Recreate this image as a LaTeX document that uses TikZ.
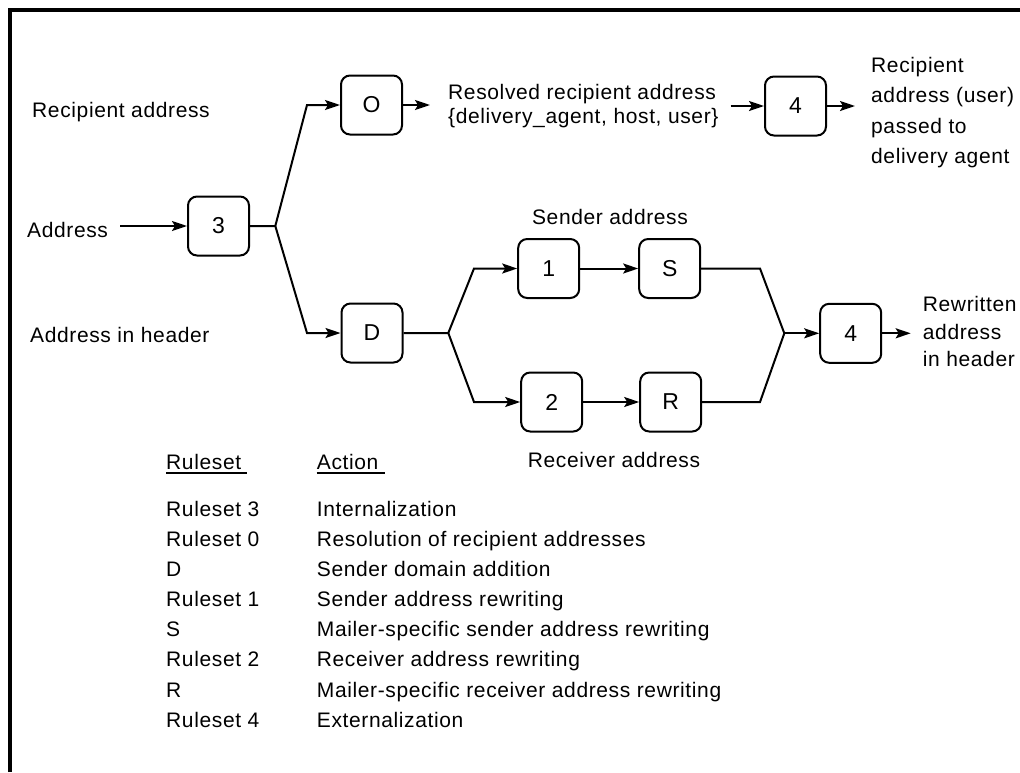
\documentclass[tikz,border=0pt]{standalone}
\usepackage{fontspec}
\setmainfont{Liberation Sans}[LetterSpace=3]
\usetikzlibrary{arrows.meta,calc}

\begin{document}
\begin{tikzpicture}[x=1pt,y=-1pt,
  rulebox/.style={draw, rounded corners=9pt, minimum width=61pt, minimum height=59pt,
    line width=2pt, inner sep=0pt, font=\fontsize{23}{24}\selectfont},
  lbl/.style={inner sep=0pt, font=\fontsize{21}{24}\selectfont},
  flow/.style={line width=2pt},
  arr/.style={flow, -{Stealth[length=15pt,width=10pt,inset=3pt]}},
  hline/.style={line width=1.8pt},
]
\useasboundingbox (0,0) rectangle (1020,772);

% frame: top and left rules only
\draw[line width=4pt] (10,772) -- (10,10) -- (1020,10);

% ruleset boxes
\node[rulebox] (b3)  at (218.5,226)   {3};
\node[rulebox] (bO)  at (371.5,105)   {O};
\node[rulebox] (bD)  at (372,333)     {D};
\node[rulebox] (b4a) at (795.5,106)   {4};
\node[rulebox] (b1)  at (548.7,268.5) {1};
\node[rulebox] (bS)  at (669.7,268.5) {S};
\node[rulebox] (b2)  at (551.7,402)   {2};
\node[rulebox] (bR)  at (670.7,402)   {R};
\node[rulebox] (b4b) at (850.7,333.3) {4};

% flow labels (multi-line labels are placed by the baseline of their last line)
\node[lbl, anchor=base west] (recip) at (32,117.3)  {Recipient address};
\node[lbl, anchor=base west] (addr)  at (27,237.3)  {Address};
\node[lbl, anchor=base west] (hdr)   at (30,342.7)  {Address in header};
\node[lbl, anchor=base west, align=left] (res) at (448,123)
  {Resolved recipient address\\\{delivery\_agent, host, user\}};
\node[lbl, anchor=base west, align=left, font=\fontsize{21}{30.2}\selectfont] (deliv) at (871,163.3)
  {Recipient\\address (user)\\passed to\\delivery agent};
\node[lbl, anchor=base west, align=left, font=\fontsize{21}{27.5}\selectfont] (rewr) at (922.7,366.7)
  {Rewritten\\address\\in header};
\node[lbl, anchor=base] (snd) at (610,224)   {Sender address};
\node[lbl, anchor=base] (rcv) at (614,467.3) {Receiver address};

% branch and merge points
\coordinate (j1) at (275.3,226);
\coordinate (u1) at (307,105);
\coordinate (d1) at (307,333);
\coordinate (j2) at (448.3,333);
\coordinate (u2) at (474,268.5);
\coordinate (d2) at (474,402);
\coordinate (u3) at (760,268.5);
\coordinate (d3) at (760,402);
\coordinate (j3) at (784.3,333.3);

% connectors
\draw[arr, shorten <=12pt] (addr.east |- b3.west) -- (b3.west);
\draw[arr] (b3.east) -- (j1) -- (u1) -- (bO.west);
\draw[arr] (j1) -- (d1) -- (bD.west);
\draw[arr, shorten >=18pt] (bO.east) -- (res.west |- bO.east);
\draw[arr, shorten <=12pt] (res.east |- b4a.west) -- (b4a.west);
\draw[arr, shorten >=16pt] (b4a.east) -- (deliv.west |- b4a.east);
\draw[arr] (bD.east) -- (j2) -- (u2) -- (b1.west);
\draw[arr] (j2) -- (d2) -- (b2.west);
\draw[arr] (b1) -- (bS);
\draw[arr] (b2) -- (bR);
\draw[flow] (bS.east) -- (u3) -- (j3);
\draw[flow] (bR.east) -- (d3) -- (j3);
\draw[arr] (j3) -- (b4b.west);
\draw[arr, shorten >=12pt] (b4b.east) -- (rewr.west |- b4b.east);

% legend table
\node[lbl, anchor=base west] (hR) at (166,469.3)   {Ruleset};
\node[lbl, anchor=base west] (hA) at (316.7,469.3) {Action};
\draw[hline] ([yshift=-3.5pt]hR.base west) -- ([xshift=6pt,yshift=-3.5pt]hR.base east);
\draw[hline] ([yshift=-3.5pt]hA.base west) -- ([xshift=6pt,yshift=-3.5pt]hA.base east);
\foreach \r/\a [count=\i from 0] in {
  Ruleset 3/Internalization,
  Ruleset 0/Resolution of recipient addresses,
  D/Sender domain addition,
  Ruleset 1/Sender address rewriting,
  S/Mailer-specific sender address rewriting,
  Ruleset 2/Receiver address rewriting,
  R/Mailer-specific receiver address rewriting,
  Ruleset 4/Externalization}{
  \node[lbl, anchor=base west] (r\i) at (166,{516+30.19*\i})   {\r};
  \node[lbl, anchor=base west] (a\i) at (316.7,{516+30.19*\i}) {\a};
}
\end{tikzpicture}
\end{document}
